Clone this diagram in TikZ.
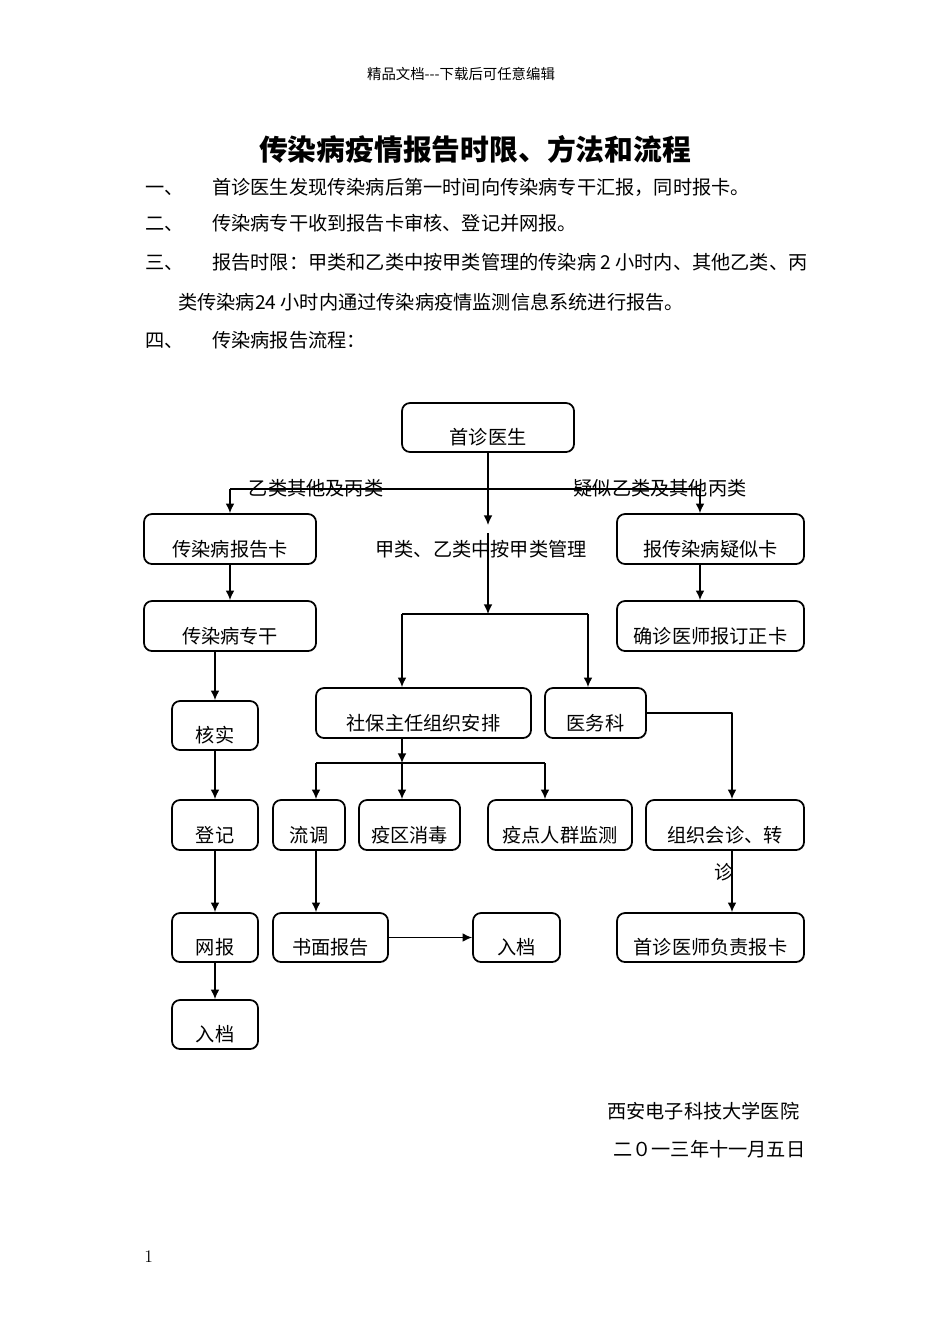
\documentclass[tikz,border=0pt]{standalone}
\usepackage{fontspec}
\newfontfamily\cjk{Noto Sans CJK SC}
\usetikzlibrary{arrows.meta}
\newlength\pxu
\setlength\pxu{0.625pt}
\begin{document}
\begin{tikzpicture}[x=0.625pt,y=-0.625pt,>={Latex[length=6pt,width=5.5pt]},line join=bevel,
  flowbox/.style={draw=black,line width=1.1pt,rounded corners=5pt,inner sep=2pt,
    font=\cjk\fontsize{12}{14}\selectfont,text height=21.6pt,text depth=0pt},
  wh/.style 2 args={minimum width=#1\pxu,minimum height=#2\pxu},
  bodytext/.style={anchor=base west,inner sep=0pt,font=\cjk\fontsize{12}{14}\selectfont},
  edgelabel/.style={inner sep=0pt,font=\cjk\fontsize{12}{14}\selectfont},
  conn/.style={line width=0.9pt}]
\useasboundingbox (0,0) rectangle (950,1344);
%%
\node (banner) at (461,79.5) [anchor=base,inner sep=0pt,font=\cjk\fontsize{9}{11}\selectfont] {精品文档-\kern0pt-\kern0pt-下载后可任意编辑};
\node (title) at (475,161) [anchor=base,inner sep=0pt,font=\cjk\bfseries\fontsize{18}{22}\selectfont] {传染病疫情报告时限、方法和流程};
  \node (item1_no) at (145,194) [bodytext] {一、};
  \node (item1) at (212,194) [bodytext] {首诊医生发现传染病后第一时间向传染病专干汇报，同时报卡。};
  \node (item2_no) at (145,231) [bodytext] {二、};
  \node (item2) at (212,231) [bodytext] {传染病专干收到报告卡审核、登记并网报。};
  \node (item3_no) at (145,269) [bodytext] {三、};
  \node (item3) at (212,269) [bodytext] {报告时限：甲类和乙类中按甲类管理的传染病 2 小时内、其他乙类、丙};
  \node (item3_cont) at (178,309) [bodytext] {类传染病24 小时内通过传染病疫情监测信息系统进行报告。};
  \node (item4_no) at (145,347) [bodytext] {四、};
  \node (item4) at (212,347) [bodytext] {传染病报告流程：};
%%
  \node (shouzhen) at (488,427.5) [flowbox,wh={172}{49}] {首诊医生};
  \node (card) at (230,539) [flowbox,wh={172}{50}] {传染病报告卡};
  \node (suspect) at (710.5,539) [flowbox,wh={187}{50}] {报传染病疑似卡};
  \node (zhuangan) at (230,626) [flowbox,wh={172}{50}] {传染病专干};
  \node (correct) at (710.5,626) [flowbox,wh={187}{50}] {确诊医师报订正卡};
  \node (check) at (215,725.5) [flowbox,wh={86}{49}] {核实};
  \node (register) at (215,825) [flowbox,wh={86}{50}] {登记};
  \node (netrep) at (215,937.5) [flowbox,wh={86}{49}] {网报};
  \node (archive1) at (215,1024.5) [flowbox,wh={86}{49}] {入档};
  \node (shebao) at (423.5,713) [flowbox,wh={215}{50}] {社保主任组织安排};
  \node (yiwu) at (595.5,713) [flowbox,wh={101}{50}] {医务科};
  \node (liudiao) at (309,825) [flowbox,wh={72}{50}] {流调};
  \node (disinfect) at (409.5,825) [flowbox,wh={101}{50}] {疫区消毒};
  \node (monitor) at (560,825) [flowbox,wh={144}{50}] {疫点人群监测};
  \node (consult) at (725,825) [flowbox,wh={158}{50},
    label={[name=consult_wrap,font=\cjk\fontsize{12}{14}\selectfont,inner sep=0pt,
      text height=12pt,text depth=0pt,label distance=9\pxu,xshift=-1\pxu]below:诊}] {组织会诊、转};
  \node (written) at (330.5,937.5) [flowbox,wh={115}{49}] {书面报告};
  \node (archive2) at (516.5,937.5) [flowbox,wh={87}{49}] {入档};
  \node (firstcard) at (710.5,937.5) [flowbox,wh={187}{49}] {首诊医师负责报卡};
  \node (lbl_left) at (316,488) [edgelabel] {乙类其他及丙类};
  \node (lbl_right) at (660,488) [edgelabel] {疑似乙类及其他丙类};
  \node (lbl_mid) at (481,549) [edgelabel] {甲类、乙类中按甲类管理};
  \coordinate (fork_l) at (230,489);
  \coordinate (fork_r) at (700,489);
  \coordinate (mid_a) at (488,525);
  \coordinate (mid_b) at (488,533);
  \coordinate (split_m) at (488,614);
  \coordinate (split_l) at (402,614);
  \coordinate (split_r) at (588,614);
  \coordinate (branch_m) at (402,763);
  \coordinate (branch_l) at (316,763);
  \coordinate (branch_r) at (545,763);
  \coordinate (yiwu_turn) at (732,713);
  \draw [conn] (fork_l) -- (fork_r);
  \draw [conn,->] (fork_l) -- (card);
  \draw [conn,->] (fork_r) -- (fork_r |- suspect.north);
  \draw [conn,->] (shouzhen) -- (mid_a);
  \draw [conn,->] (mid_b) -- (split_m);
  \draw [conn] (split_l) -- (split_r);
  \draw [conn,->] (split_l) -- (split_l |- shebao.north);
  \draw [conn,->] (split_r) -- (split_r |- yiwu.north);
  \draw [conn,->] (shebao.south -| branch_m) -- (branch_m);
  \draw [conn] (branch_l) -- (branch_r);
  \draw [conn,->] (branch_l) -- (branch_l |- liudiao.north);
  \draw [conn,->] (branch_m) -- (branch_m |- disinfect.north);
  \draw [conn,->] (branch_r) -- (branch_r |- monitor.north);
  \draw [conn,->] (yiwu.east) -- (yiwu_turn) -- (yiwu_turn |- consult.north);
  \draw [conn,->] (consult.south -| yiwu_turn) -- (yiwu_turn |- firstcard.north);
  \draw [conn,->] (card) -- (zhuangan);
  \draw [conn,->] (zhuangan.south -| check) -- (check);
  \draw [conn,->] (check) -- (register);
  \draw [conn,->] (register) -- (netrep);
  \draw [conn,->] (netrep) -- (archive1);
  \draw [conn,->] (fork_r |- suspect.south) -- (fork_r |- correct.north);
  \draw [conn,->] (liudiao.south -| branch_l) -- (branch_l |- written.north);
  \draw [conn,->] (written) -- (archive2);
%%
  \node (hospital) at (607,1118) [bodytext] {西安电子科技大学医院};
  \node (date) at (613,1156) [bodytext] {二０一三年十一月五日};
  \node (pageno) at (144,1262) [anchor=base west,inner sep=0pt,font=\fontsize{11}{13}\selectfont] {1};
%
\end{tikzpicture}
\end{document}
